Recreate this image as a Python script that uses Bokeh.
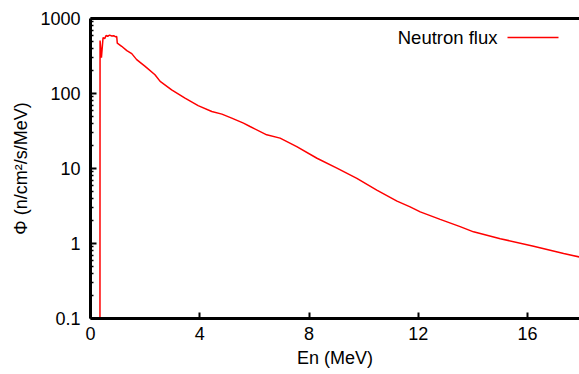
from bokeh.plotting import figure
from bokeh.models import (LinearAxis, FixedTicker, CustomJSTickFormatter, Label, Arrow, Range1d)
from bokeh.embed import file_html
from bokeh.resources import INLINE

# Neutron flux spectrum
energy_mev = [0.345, 0.35, 0.40, 0.46, 0.52, 0.57, 0.63, 0.70, 0.78, 0.85, 0.92, 0.96,
              0.98, 1.14, 1.33, 1.51, 1.69, 2.00, 2.36, 2.55, 2.97, 3.46, 3.94, 4.44,
              4.81, 5.17, 5.60, 5.84, 6.45, 6.94, 7.55, 8.29, 9.02, 9.75, 10.48, 11.22,
              11.70, 12.07, 12.80, 13.53, 14.02, 15.00, 16.22, 17.32, 17.90]
flux = [0.001, 508, 301, 557, 540, 593, 580, 600, 585, 590, 570, 575,
        470, 426, 373, 340, 283, 230, 178, 145, 112, 86.9, 69.0, 57.6,
        53.1, 47.0, 40.3, 36.3, 28.1, 25.4, 19.6, 13.7, 10.1, 7.40, 5.16, 3.67,
        3.08, 2.64, 2.10, 1.68, 1.43, 1.16, 0.918, 0.734, 0.661]

x_ticks = [0, 4, 8, 12, 16]
y_ticks = [0.1, 1, 10, 100, 1000]
y_minor = [m * d for d in [0.1, 1, 10, 100] for m in range(2, 10)]
legend_label = "Neutron flux"
x_title = "En (MeV)"
y_title = "\u03a6 (n/cm\u00b2/s/MeV)"

FONT = "Liberation Sans"
FS = "18px"

p = figure(width=579, height=371, y_axis_type="log",
           x_range=Range1d(0, 17.9), y_range=Range1d(0.1, 1000),
           output_backend="svg", toolbar_location=None,
           min_border_left=90, min_border_right=0, min_border_top=18, min_border_bottom=53)
p.outline_line_color = None
p.grid.visible = False
p.background_fill_color = "white"

p.line(energy_mev, flux, line_color="#ff0000", line_width=1.5)

# x axis
xa = p.xaxis[0]
xa.ticker = FixedTicker(ticks=x_ticks)
xa.axis_label = x_title
# y axis
ya = p.yaxis[0]
ya.ticker = FixedTicker(ticks=y_ticks, minor_ticks=y_minor)
ya.formatter = CustomJSTickFormatter(code="return tick.toString();")
ya.axis_label = y_title

for ax in (xa, ya):
    ax.axis_line_width = 3
    ax.axis_line_color = "black"
    ax.major_tick_in = 6
    ax.major_tick_out = 0
    ax.minor_tick_in = 3
    ax.minor_tick_out = 0
    ax.major_tick_line_width = 2
    ax.minor_tick_line_width = 1.5
    ax.major_label_text_font = FONT
    ax.major_label_text_font_size = FS
    ax.major_label_text_color = "black"
    ax.axis_label_text_font = FONT
    ax.axis_label_text_font_size = FS
    ax.axis_label_text_font_style = "normal"
    ax.axis_label_text_color = "black"
xa.minor_tick_line_color = None
xa.major_label_standoff = 8
xa.axis_label_standoff = 5
ya.major_label_standoff = 10
ya.axis_label_standoff = 6

# top border
top = LinearAxis(ticker=FixedTicker(ticks=[]), axis_line_width=3, axis_line_color="black",
                 major_tick_line_color=None, minor_tick_line_color=None,
                 major_label_text_font_size="0px", major_label_standoff=0)
p.add_layout(top, "above")

# legend (text, then line sample to its right)
p.add_layout(Label(x=407, y=281, x_units="screen", y_units="screen", text=legend_label,
                   text_font=FONT, text_font_size="18.5px", text_align="right",
                   text_baseline="middle", text_color="black"))
p.add_layout(Arrow(x_start=417, y_start=281, x_end=468, y_end=281,
                   start_units="screen", end_units="screen", end=None,
                   line_color="#ff0000", line_width=1.5))

open("out.html", "w").write(file_html(p, INLINE))
